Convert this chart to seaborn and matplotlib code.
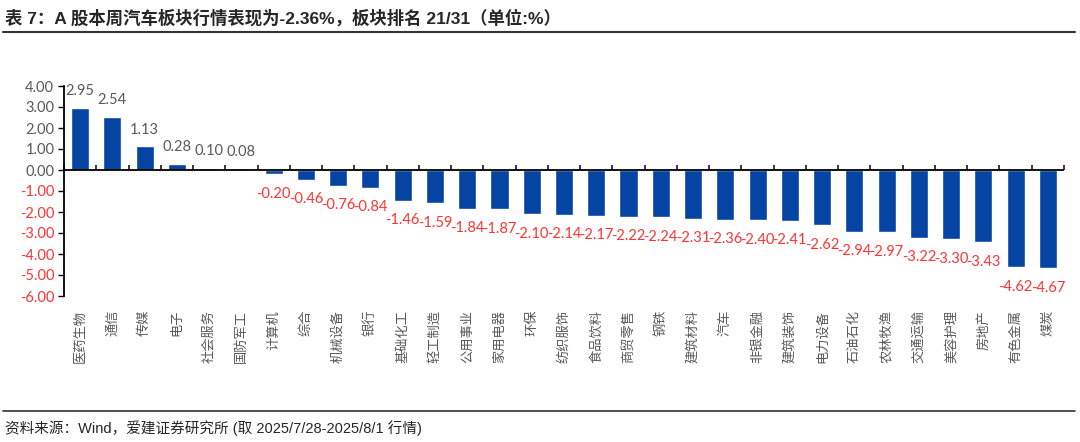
import matplotlib
matplotlib.use('Agg')
import matplotlib.pyplot as plt
from matplotlib.lines import Line2D
import numpy as np
import pandas as pd
import seaborn as sns

# 申万一级行业周涨跌幅 (2025/7/28-2025/8/1)
sectors = ['医药生物', '通信', '传媒', '电子', '社会服务', '国防军工', '计算机', '综合',
           '机械设备', '银行', '基础化工', '轻工制造', '公用事业', '家用电器', '环保',
           '纺织服饰', '食品饮料', '商贸零售', '钢铁', '建筑材料', '汽车', '非银金融',
           '建筑装饰', '电力设备', '石油石化', '农林牧渔', '交通运输', '美容护理',
           '房地产', '有色金属', '煤炭']
changes = [2.95, 2.54, 1.13, 0.28, 0.10, 0.08, -0.20, -0.46, -0.76, -0.84, -1.46,
           -1.59, -1.84, -1.87, -2.10, -2.14, -2.17, -2.22, -2.24, -2.31, -2.36,
           -2.40, -2.41, -2.62, -2.94, -2.97, -3.22, -3.30, -3.43, -4.62, -4.67]
y_ticks = [4, 3, 2, 1, 0, -1, -2, -3, -4, -5, -6]

title = '表 7：A 股本周汽车板块行情表现为-2.36%，板块排名 21/31（单位:%）'
source = '资料来源：Wind，爱建证券研究所 (取 2025/7/28-2025/8/1 行情)'

blue = '#0544A2'
gray = '#595959'
red = '#FF3333'

sns.set_style('ticks')
plt.rcParams['font.family'] = ['Lato', 'Noto Sans CJK SC', 'DejaVu Sans']

df = pd.DataFrame({'板块': sectors, '涨跌幅': changes})

fig = plt.figure(figsize=(10.8, 4.42), dpi=100)
ax = fig.add_axes([64 / 1080, 1 - 296 / 442, 1000 / 1080, 210 / 442])
sns.barplot(data=df, x='板块', y='涨跌幅', color=blue, width=0.56,
            saturation=1, ax=ax)

ax.set_ylim(y_ticks[-1], y_ticks[0])
ax.set_xlim(-0.5, len(sectors) - 0.5)
ax.set_xlabel('')
ax.set_ylabel('')

# y轴
ax.set_yticks(y_ticks)
ax.set_yticklabels([f'{v:.2f}' for v in y_ticks])
for lab, v in zip(ax.get_yticklabels(), y_ticks):
    lab.set_color(red if v < 0 else gray)
ax.tick_params(axis='y', left=True, direction='out', length=4, width=1,
               color='black', labelsize=10.5, pad=3)

# 行业名放在图底部
ax.set_xticks(range(len(sectors)))
ax.set_xticklabels(sectors, rotation=90, family=['Noto Sans CJK SC'])
ax.tick_params(axis='x', length=0, labelsize=9.5, labelcolor=gray, pad=10)

for s in ['top', 'right', 'bottom']:
    ax.spines[s].set_visible(False)
ax.spines['left'].set_color('black')
ax.spines['left'].set_linewidth(1.3)

# 零轴线及类别分隔刻度(朝上)
ax.axhline(0, color='black', lw=1.3, zorder=5)
ax.vlines(np.arange(len(sectors) + 1) - 0.5, 0, 0.22, color='black',
          lw=1.1, zorder=5, clip_on=False)

# 数据标签
bars = ax.containers[0]
ax.bar_label(bars, labels=[f'{v:.2f}' if v >= 0 else '' for v in changes],
             padding=7, color=gray, fontsize=10.5)
ax.bar_label(bars, labels=[f'{v:.2f}' if v < 0 else '' for v in changes],
             padding=9, color=red, fontsize=10.5)

# 标题与来源
fig.text(5 / 1080, 1 - 18 / 442, title, fontsize=12.5, weight='bold',
         va='center', family=['Liberation Sans', 'Noto Sans CJK SC'])
fig.add_artist(Line2D([3 / 1080, 1075 / 1080], [1 - 32 / 442] * 2,
                      color='#333333', lw=1.5))
fig.add_artist(Line2D([3 / 1080, 1075 / 1080], [1 - 411 / 442] * 2,
                      color='#333333', lw=1.2))
fig.text(5 / 1080, 1 - 428 / 442, source, fontsize=10.5, va='center',
         family=['Liberation Sans', 'Noto Sans CJK SC'])

fig.savefig('out.png', dpi=100)
